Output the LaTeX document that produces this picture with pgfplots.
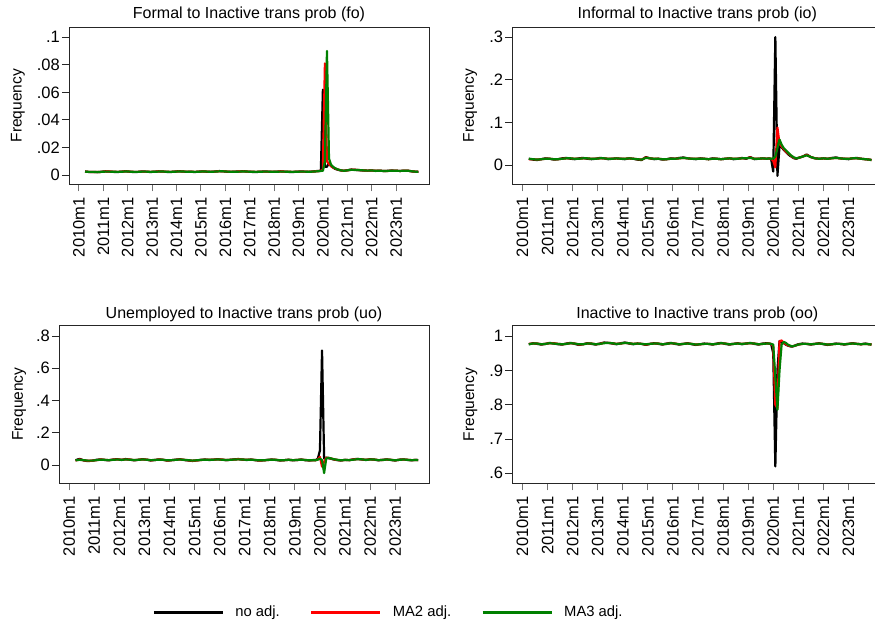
\documentclass[border=0pt]{standalone}
\usepackage{pgfplots}
\usepackage{pgfplotstable}
\pgfplotsset{compat=1.18}
\usepackage{fontspec}
\setmainfont{Liberation Sans}

\definecolor{stgreen}{RGB}{0,128,0}
\definecolor{stred}{RGB}{255,0,0}

% m = months since 2010m1, a = no adj., b = MA2 adj., c = MA3 adj.
\pgfplotstableread{
m a b c
3 .0026 .0024 .0025
5 .0022 .0023 .0023
7 .0023 .0022 .0023
9 .0021 .0022 .0022
11 .0024 .0023 .0023
13 .0027 .0026 .0025
15 .0025 .0026 .0025
17 .0023 .0024 .0024
19 .0022 .0023 .0023
21 .0025 .0024 .0024
23 .0028 .0027 .0026
25 .0024 .0025 .0025
27 .0022 .0023 .0023
29 .0023 .0023 .0023
31 .0026 .0025 .0025
33 .0025 .0025 .0025
35 .0022 .0023 .0023
37 .0024 .0024 .0024
39 .0027 .0026 .0025
41 .0026 .0026 .0026
43 .0023 .0024 .0024
45 .0022 .0023 .0023
47 .0025 .0024 .0024
49 .0028 .0027 .0026
51 .0026 .0026 .0026
53 .0023 .0024 .0024
55 .0024 .0024 .0024
57 .0022 .0023 .0023
59 .0025 .0024 .0024
61 .0027 .0026 .0026
63 .0024 .0025 .0025
65 .0023 .0024 .0024
67 .0026 .0025 .0025
69 .0029 .0028 .0027
71 .0027 .0027 .0027
73 .0024 .0025 .0025
75 .0023 .0024 .0024
77 .0025 .0024 .0024
79 .0026 .0026 .0025
81 .0028 .0027 .0026
83 .0025 .0025 .0025
85 .0023 .0024 .0024
87 .0022 .0023 .0023
89 .0024 .0024 .0024
91 .0026 .0025 .0025
93 .0025 .0025 .0025
95 .0023 .0024 .0024
97 .0024 .0024 .0024
99 .0027 .0026 .0025
101 .0025 .0025 .0025
103 .0023 .0024 .0024
105 .0022 .0023 .0023
107 .0024 .0024 .0024
109 .0026 .0025 .0025
111 .0025 .0025 .0025
113 .0023 .0024 .0024
115 .0026 .0025 .0025
117 .0029 .0028 .0027
118 .0030 .0029 .0028
119 .0032 .0031 .0030
120 .0620 .0040 .0031
121 .0060 .0810 .0100
122 .0060 .0100 .0900
123 .0090 .0080 .0120
124 .0065 .0065 .0075
125 .0055 .0055 .0060
126 .0045 .0048 .0050
127 .0040 .0042 .0043
128 .0036 .0037 .0038
129 .0033 .0034 .0034
130 .0031 .0031 .0032
131 .0033 .0032 .0032
132 .0035 .0034 .0034
134 .0040 .0039 .0038
136 .0038 .0038 .0037
138 .0035 .0036 .0036
140 .0033 .0034 .0034
142 .0032 .0032 .0032
144 .0034 .0033 .0033
146 .0030 .0031 .0031
148 .0032 .0031 .0031
150 .0029 .0030 .0030
152 .0031 .0030 .0030
154 .0033 .0032 .0032
156 .0031 .0031 .0031
158 .0030 .0030 .0030
160 .0032 .0031 .0031
162 .0031 .0031 .0031
164 .0026 .0027 .0027
166 .0024 .0024 .0024
167 .0023 .0023 .0023
}\tfo

\pgfplotstableread{
m a b c
3 .015 .014 .015
5 .013 .014 .014
7 .012 .013 .013
9 .014 .014 .014
11 .016 .015 .015
13 .015 .015 .015
15 .013 .014 .014
17 .014 .014 .014
19 .016 .015 .015
21 .017 .016 .016
23 .015 .016 .016
25 .014 .015 .015
27 .016 .015 .015
29 .017 .016 .016
31 .015 .016 .016
33 .014 .015 .015
35 .015 .015 .015
37 .017 .016 .016
39 .016 .016 .016
41 .014 .015 .015
43 .015 .015 .015
45 .016 .016 .016
47 .015 .015 .015
49 .014 .015 .015
51 .016 .016 .016
53 .015 .015 .015
55 .013 .014 .014
57 .012 .013 .013
59 .019 .018 .017
61 .016 .016 .016
63 .014 .015 .015
65 .015 .015 .015
67 .013 .014 .014
69 .014 .014 .014
71 .016 .015 .015
73 .015 .015 .015
75 .017 .016 .016
77 .018 .017 .017
79 .016 .016 .016
81 .015 .015 .015
83 .014 .015 .015
85 .016 .015 .015
87 .015 .015 .015
89 .014 .014 .014
91 .016 .015 .015
93 .015 .015 .015
95 .014 .014 .014
97 .015 .015 .015
99 .016 .016 .016
101 .014 .015 .015
103 .015 .015 .015
105 .017 .016 .016
107 .015 .016 .016
109 .019 .018 .017
111 .014 .015 .015
113 .015 .015 .015
115 .016 .016 .016
117 .015 .015 .015
118 .016 .016 .016
119 .014 .015 .015
120 -.015 .010 .016
121 .300 -.005 .020
122 -.025 .088 .040
123 .045 .050 .060
124 .042 .044 .048
125 .036 .038 .040
126 .031 .032 .035
127 .026 .028 .030
128 .022 .024 .025
129 .019 .020 .021
130 .016 .017 .018
131 .015 .016 .016
132 .017 .017 .017
134 .020 .020 .020
136 .025 .024 .023
138 .019 .019 .019
140 .016 .016 .016
142 .015 .015 .015
144 .016 .016 .016
146 .015 .015 .015
148 .017 .016 .016
150 .018 .017 .017
152 .016 .016 .016
154 .015 .015 .015
156 .014 .015 .015
158 .016 .016 .016
160 .017 .016 .016
162 .015 .015 .015
164 .014 .014 .014
166 .013 .013 .013
167 .012 .012 .012
}\tio

\pgfplotstableread{
m a b c
3 .030 .028 .029
5 .038 .034 .032
7 .028 .029 .030
9 .024 .026 .027
11 .027 .027 .027
13 .032 .030 .030
15 .035 .034 .033
17 .031 .032 .032
19 .029 .030 .030
21 .034 .033 .032
23 .036 .035 .034
25 .031 .032 .032
27 .037 .035 .034
29 .033 .034 .033
31 .029 .030 .031
33 .032 .032 .032
35 .036 .035 .034
37 .033 .033 .033
39 .028 .029 .030
41 .031 .031 .031
43 .035 .034 .033
45 .032 .032 .032
47 .027 .028 .029
49 .030 .030 .030
51 .033 .032 .032
53 .036 .035 .034
55 .031 .032 .032
57 .028 .029 .030
59 .025 .026 .027
61 .029 .028 .029
63 .032 .031 .031
65 .034 .033 .033
67 .031 .032 .032
69 .033 .033 .033
71 .036 .035 .034
73 .033 .034 .033
75 .030 .031 .031
77 .032 .032 .032
79 .035 .034 .034
81 .037 .036 .035
83 .033 .034 .034
85 .031 .032 .032
87 .034 .033 .033
89 .030 .031 .031
91 .027 .028 .029
93 .029 .029 .029
95 .032 .031 .031
97 .034 .033 .033
99 .031 .032 .032
101 .028 .029 .029
103 .030 .030 .030
105 .033 .032 .032
107 .029 .030 .030
109 .031 .031 .031
111 .034 .033 .033
113 .030 .031 .031
115 .028 .029 .029
117 .031 .030 .030
118 .030 .030 .030
119 .040 .035 .033
120 .090 .050 .040
121 .710 -.010 .030
122 .040 .020 -.050
123 .045 .045 .040
124 .042 .044 .045
125 .040 .041 .042
126 .036 .038 .038
127 .033 .034 .035
128 .031 .032 .033
129 .029 .030 .031
130 .028 .029 .029
131 .030 .030 .030
132 .032 .031 .031
134 .030 .030 .030
136 .035 .034 .033
138 .038 .037 .036
140 .034 .035 .035
142 .031 .032 .032
144 .036 .035 .034
146 .033 .034 .034
148 .029 .030 .030
150 .032 .031 .031
152 .035 .034 .034
154 .031 .032 .032
156 .028 .029 .029
158 .033 .032 .032
160 .035 .034 .034
162 .031 .032 .032
164 .029 .030 .030
166 .032 .031 .031
167 .030 .030 .030
}\tuo

\pgfplotstableread{
m a b c
3 .976 .977 .976
5 .979 .978 .978
7 .977 .978 .978
9 .975 .976 .976
11 .977 .977 .977
13 .980 .979 .979
15 .978 .979 .978
17 .976 .977 .977
19 .975 .976 .976
21 .978 .977 .977
23 .980 .979 .979
25 .977 .978 .978
27 .974 .975 .976
29 .976 .976 .976
31 .979 .978 .978
33 .977 .978 .978
35 .975 .976 .976
37 .978 .977 .977
39 .981 .980 .979
41 .980 .980 .980
43 .978 .979 .979
45 .976 .977 .977
47 .979 .978 .978
49 .981 .980 .980
51 .978 .979 .979
53 .976 .977 .977
55 .978 .978 .978
57 .977 .977 .977
59 .974 .975 .976
61 .977 .977 .977
63 .979 .978 .978
65 .977 .978 .978
67 .975 .976 .976
69 .978 .977 .977
71 .980 .979 .979
73 .977 .978 .978
75 .975 .976 .976
77 .977 .977 .977
79 .979 .978 .978
81 .976 .977 .977
83 .974 .975 .975
85 .976 .976 .976
87 .978 .977 .977
89 .977 .977 .977
91 .975 .976 .976
93 .978 .977 .977
95 .980 .979 .979
97 .977 .978 .978
99 .975 .976 .976
101 .977 .977 .977
103 .979 .978 .978
105 .976 .977 .977
107 .978 .978 .978
109 .980 .979 .979
111 .977 .978 .978
113 .975 .976 .976
115 .978 .977 .977
117 .979 .978 .978
118 .978 .978 .978
119 .976 .977 .977
120 .950 .970 .975
121 .620 .800 .880
122 .900 .790 .785
123 .985 .985 .900
124 .982 .987 .975
125 .979 .981 .983
126 .975 .976 .980
127 .972 .973 .975
128 .970 .971 .972
129 .969 .970 .970
130 .971 .971 .971
131 .974 .973 .973
132 .976 .975 .975
134 .978 .977 .977
136 .977 .977 .977
138 .975 .976 .976
140 .977 .977 .977
142 .979 .978 .978
144 .976 .977 .977
146 .974 .975 .975
148 .976 .976 .976
150 .978 .977 .977
152 .977 .977 .977
154 .975 .976 .976
156 .977 .977 .977
158 .979 .978 .978
160 .977 .977 .977
162 .976 .976 .976
164 .978 .977 .977
166 .976 .976 .976
167 .975 .975 .975
}\too

\pgfplotsset{
  panel/.style={
    scale only axis,
    anchor=south west,
    width=370pt,
    xmin=-4.9, xmax=172.2,
    axis line style={black!85, line width=0.9pt},
    tick align=outside,
    major tick length=7pt,
    xtick={0,12,...,156},
    xticklabels={2010m1,2011m1,2012m1,2013m1,2014m1,2015m1,2016m1,2017m1,2018m1,2019m1,2020m1,2021m1,2022m1,2023m1},
    x tick style={black!55, line width=1pt},
    y tick style={black!85, line width=0.9pt},
    xtick pos=bottom, ytick pos=left,
    xticklabel style={rotate=90, anchor=east, inner sep=6pt, font=\fontsize{16.5}{18}\selectfont},
    yticklabel style={inner sep=2pt, font=\fontsize{16.5}{18}\selectfont},
    /pgf/number format/assume math mode=true,
    ylabel={Frequency},
    ylabel style={font=\fontsize{15.5}{17}\selectfont, anchor=center},
    title style={font=\fontsize{16}{18}\selectfont, at={(0.5,1)}, anchor=base},
    clip=true,
    no markers,
    every axis plot/.append style={line width=2.2pt, line join=round},
  },
}

\begin{document}
\begin{tikzpicture}
\useasboundingbox (0pt,0pt) rectangle (875pt,627pt);

% top left
\begin{axis}[panel, at={(69pt,442.7pt)}, width=360pt, height=157pt,
  ymin=-0.0067, ymax=0.1072,
  ytick={0,0.02,0.04,0.06,0.08,0.1}, yticklabels={0,.02,.04,.06,.08,.1},
  ylabel style={at={(axis description cs:-0.1417,0.5)}},
  title={Formal to Inactive trans prob (fo)}, title style={yshift=3pt}]
  \addplot[black] table[x=m,y=a] {\tfo};
  \addplot[stred] table[x=m,y=b] {\tfo};
  \addplot[stgreen] table[x=m,y=c] {\tfo};
\end{axis}

% top right
\begin{axis}[panel, at={(512.3pt,442.7pt)}, height=157pt,
  ymin=-0.0448, ymax=0.3229,
  ytick={0,0.1,0.2,0.3}, yticklabels={0,.1,.2,.3},
  ylabel style={at={(axis description cs:-0.114,0.5)}},
  title={Informal to Inactive trans prob (io)}, title style={yshift=2.5pt}]
  \addplot[black] table[x=m,y=a] {\tio};
  \addplot[stred] table[x=m,y=b] {\tio};
  \addplot[stgreen] table[x=m,y=c] {\tio};
\end{axis}

% bottom left
\begin{axis}[panel, at={(59pt,143.7pt)}, height=158.3pt,
  ymin=-0.1135, ymax=0.868,
  ytick={0,0.2,0.4,0.6,0.8}, yticklabels={0,.2,.4,.6,.8},
  ylabel style={at={(axis description cs:-0.108,0.5)}},
  title={Unemployed to Inactive trans prob (uo)}, title style={yshift=0.5pt},
  legend style={draw=none, fill=none, at={(0.8905,-0.813)}, anchor=center,
    legend columns=3, font=\fontsize{14.8}{17}\selectfont,
    /tikz/every odd column/.append style={column sep=9pt},
    /tikz/every even column/.append style={column sep=28pt}},
  legend image code/.code={\draw[#1, line width=3pt] (0pt,0pt) -- (69pt,0pt);}]
  \addplot[black] table[x=m,y=a] {\tuo};
  \addplot[stred] table[x=m,y=b] {\tuo};
  \addplot[stgreen] table[x=m,y=c] {\tuo};
  \legend{no adj., MA2 adj., MA3 adj.}
\end{axis}

% bottom right
\begin{axis}[panel, at={(512.3pt,143.7pt)}, height=157.6pt,
  ymin=0.5709, ymax=1.030,
  ytick={0.6,0.7,0.8,0.9,1}, yticklabels={.6,.7,.8,.9,1},
  ylabel style={at={(axis description cs:-0.1135,0.5)}},
  title={Inactive to Inactive trans prob (oo)}, title style={yshift=1pt}]
  \addplot[black] table[x=m,y=a] {\too};
  \addplot[stred] table[x=m,y=b] {\too};
  \addplot[stgreen] table[x=m,y=c] {\too};
\end{axis}
\end{tikzpicture}
\end{document}
